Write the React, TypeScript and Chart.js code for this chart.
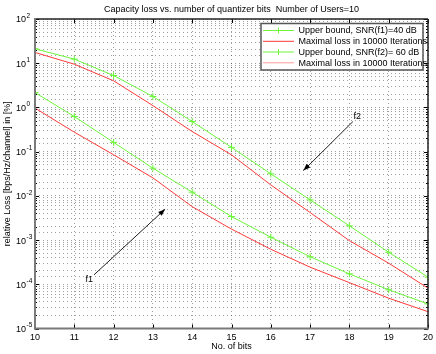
import React, { useEffect, useRef } from "react";
import { Chart, registerables } from "chart.js";

Chart.register(...registerables);

// ---- data ----
const bits = [10, 11, 12, 13, 14, 15, 16, 17, 18, 19, 20];
// lower pair (f1)
const upperBoundF1 = [2.17, 0.622, 0.162, 0.0423, 0.0121, 0.0034, 1.16e-3, 4.2e-4, 1.72e-4, 7.5e-5, 3.6e-5];
const maxLossF1 = [0.964, 0.276, 0.085, 0.0255, 0.0057, 1.77e-3, 6.2e-4, 2.44e-4, 1.09e-4, 4.85e-5, 2.4e-5];
// upper pair (f2)
const upperBoundF2 = [21.2, 12.4, 5.27, 1.77, 0.48, 0.125, 0.0315, 0.0081, 0.0021, 5.3e-4, 1.45e-4];
const maxLossF2 = [17.5, 9.5, 4.0, 1.1, 0.285, 0.0847, 0.0177, 0.0042, 9.7e-4, 3.0e-4, 8.2e-5];

const xTickLabels = ["10", "11", "12", "13", "14", "15", "16", "17", "18", "19", "20"];
const yTickExponents = [-5, -4, -3, -2, -1, 0, 1, 2];

const legendLabels = [
  "Upper bound, SNR(f1)=40 dB",
  "Maximal loss in 10000 Iterations",
  "Upper bound, SNR(f2)= 60 dB",
  "Maximal loss in 10000 Iterations",
];

const titleText = "Capacity loss vs. number of quantizer bits  Number of Users=10";
const xTitle = "No. of bits";
const yTitle = "relative Loss [bps/Hz/channel] in [%]";

// annotations (data coordinates)
const arrowF2 = { label: "f2", text: [18.2, 0.62], from: [18.09, 0.48], to: [16.83, 0.0373] };
const arrowF1 = { label: "f1", text: [11.38, 1.3e-4], from: [11.5, 1.63e-4], to: [13.31, 5.0e-3] };

const GREEN = "#6cf53a";
const RED = "#ff3a3a";
const PINK = "#ff9a9a";
const FONT = '"Liberation Sans", Arial, Helvetica, sans-serif';

const overlay = {
  id: "overlay",
  afterDraw(chart: any) {
    const { ctx, chartArea: a } = chart;
    const xs = chart.scales.x;
    const ys = chart.scales.y;
    const line = (x1: number, y1: number, x2: number, y2: number) => {
      ctx.beginPath();
      ctx.moveTo(x1, y1);
      ctx.lineTo(x2, y2);
      ctx.stroke();
    };
    ctx.save();
    // tick marks
    ctx.strokeStyle = "#000";
    ctx.lineWidth = 1;
    for (const b of bits) {
      const px = Math.round(xs.getPixelForValue(b)) + 0.5;
      line(px, a.bottom, px, a.bottom - 4);
      line(px, a.top, px, a.top + 4);
    }
    for (const e of yTickExponents) {
      for (let m = 1; m < 10; m++) {
        const v = m * Math.pow(10, e);
        if (e === 2 && m > 1) break;
        const py = Math.round(ys.getPixelForValue(v)) + 0.5;
        const len = m === 1 ? 4 : 2;
        line(a.left, py, a.left + len, py);
        line(a.right, py, a.right - len, py);
      }
    }
    // frame
    ctx.strokeStyle = "#222";
    ctx.lineWidth = 1.5;
    line(a.left, a.top, a.right, a.top);
    line(a.right, a.top, a.right, a.bottom);
    ctx.strokeStyle = "#7a7a7a";
    ctx.lineWidth = 2;
    line(a.left, a.top - 1, a.left, a.bottom + 1);
    line(a.left - 1, a.bottom, a.right + 1, a.bottom);

    // x tick labels
    ctx.fillStyle = "#000";
    ctx.font = "9px " + FONT;
    ctx.textAlign = "center";
    ctx.textBaseline = "middle";
    bits.forEach((b, i) => {
      ctx.fillText(xTickLabels[i], xs.getPixelForValue(b), a.bottom + 9);
    });
    // y tick labels with superscript
    for (const e of yTickExponents) {
      const py = ys.getPixelForValue(Math.pow(10, e));
      ctx.font = "9px " + FONT;
      ctx.textAlign = "right";
      ctx.textBaseline = "middle";
      ctx.fillText("10", 26, py + 1);
      ctx.font = "6.5px " + FONT;
      ctx.textAlign = "left";
      ctx.fillText(String(e), 26.5, py - 3);
    }
    // axis titles
    ctx.font = "9px " + FONT;
    ctx.textAlign = "center";
    ctx.textBaseline = "middle";
    ctx.fillText(xTitle, (a.left + a.right) / 2, 346.5);
    ctx.fillText(titleText, (a.left + a.right) / 2, 9.5);
    ctx.save();
    ctx.translate(7.5, (a.top + a.bottom) / 2);
    ctx.rotate(-Math.PI / 2);
    ctx.fillText(yTitle, 0, 0);
    ctx.restore();

    // arrows
    const drawArrow = (ar: any) => {
      const x1 = xs.getPixelForValue(ar.from[0]);
      const y1 = ys.getPixelForValue(ar.from[1]);
      const x2 = xs.getPixelForValue(ar.to[0]);
      const y2 = ys.getPixelForValue(ar.to[1]);
      ctx.strokeStyle = "#222";
      ctx.fillStyle = "#000";
      ctx.lineWidth = 1;
      line(x1, y1, x2, y2);
      const ang = Math.atan2(y2 - y1, x2 - x1);
      const L = 7, W = 2.6;
      ctx.beginPath();
      ctx.moveTo(x2, y2);
      ctx.lineTo(x2 - L * Math.cos(ang) + W * Math.sin(ang), y2 - L * Math.sin(ang) - W * Math.cos(ang));
      ctx.lineTo(x2 - L * Math.cos(ang) - W * Math.sin(ang), y2 - L * Math.sin(ang) + W * Math.cos(ang));
      ctx.closePath();
      ctx.fill();
      ctx.font = "9px " + FONT;
      ctx.textAlign = "center";
      ctx.textBaseline = "middle";
      ctx.fillText(ar.label, xs.getPixelForValue(ar.text[0]), ys.getPixelForValue(ar.text[1]));
    };
    drawArrow(arrowF2);
    drawArrow(arrowF1);

    // legend
    const lx = 261, ly = 23.5, lw = 162, lh = 46.5;
    ctx.fillStyle = "#fff";
    ctx.fillRect(lx, ly, lw, lh);
    ctx.strokeStyle = "#555";
    ctx.lineWidth = 1.5;
    ctx.strokeRect(lx, ly, lw, lh);
    const colors = [GREEN, RED, GREEN, PINK];
    const rows = [30.5, 41.3, 52, 62.8];
    legendLabels.forEach((t, i) => {
      const ry = rows[i];
      ctx.strokeStyle = colors[i];
      ctx.lineWidth = 1;
      line(263, ry, 294, ry);
      if (i % 2 === 0) {
        line(278.5, ry - 3, 278.5, ry + 3);
      }
      ctx.fillStyle = "#000";
      ctx.font = "9px " + FONT;
      ctx.textAlign = "left";
      ctx.textBaseline = "middle";
      ctx.fillText(t, 298.5, ry + 0.5);
    });
    ctx.restore();
  },
};

const toPts = (vals: number[]) => vals.map((v, i) => ({ x: bits[i], y: v }));

export default function App() {
  const ref = useRef<HTMLCanvasElement | null>(null);
  useEffect(() => {
    if (!ref.current) return;
    const gridCommon = {
      color: "rgba(0,0,0,0.38)",
      lineWidth: 1,
      drawTicks: false,
    };
    const chart = new Chart(ref.current, {
      type: "line",
      data: {
        datasets: [
          { label: legendLabels[0], data: toPts(upperBoundF1), borderColor: GREEN, backgroundColor: GREEN, borderWidth: 1, pointStyle: "cross", pointRadius: 3.5, pointBorderWidth: 1, pointBorderColor: GREEN, tension: 0 },
          { label: legendLabels[1], data: toPts(maxLossF1), borderColor: RED, borderWidth: 1, pointRadius: 0, tension: 0 },
          { label: legendLabels[2], data: toPts(upperBoundF2), borderColor: GREEN, backgroundColor: GREEN, borderWidth: 1, pointStyle: "cross", pointRadius: 3.5, pointBorderWidth: 1, pointBorderColor: GREEN, tension: 0 },
          { label: legendLabels[3], data: toPts(maxLossF2), borderColor: RED, borderWidth: 1, pointRadius: 0, tension: 0 },
        ],
      },
      options: {
        animation: false,
        responsive: false,
        maintainAspectRatio: false,
        devicePixelRatio: 1,
        layout: { padding: { top: 19, right: 8, left: 0, bottom: 0 } },
        plugins: { legend: { display: false }, title: { display: false }, tooltip: { enabled: false } },
        scales: {
          x: {
            type: "linear",
            min: 10,
            max: 20,
            ticks: { display: false, stepSize: 1 },
            grid: gridCommon,
            border: { display: false, dash: [1, 3] },
            afterFit: (s: any) => { s.height = 25.5; },
          },
          y: {
            type: "logarithmic",
            min: 1e-5,
            max: 100,
            ticks: { display: false },
            grid: gridCommon,
            border: { display: false, dash: [1, 3] },
            afterFit: (s: any) => { s.width = 35; },
          },
        },
      } as any,
      plugins: [overlay],
    });
    return () => chart.destroy();
  }, []);
  return (
    <div style={{ position: "absolute", left: 0, top: 0, width: 436, height: 354, background: "#fff" }}>
      <canvas ref={ref} width={436} height={354} style={{ display: "block" }} />
    </div>
  );
}
